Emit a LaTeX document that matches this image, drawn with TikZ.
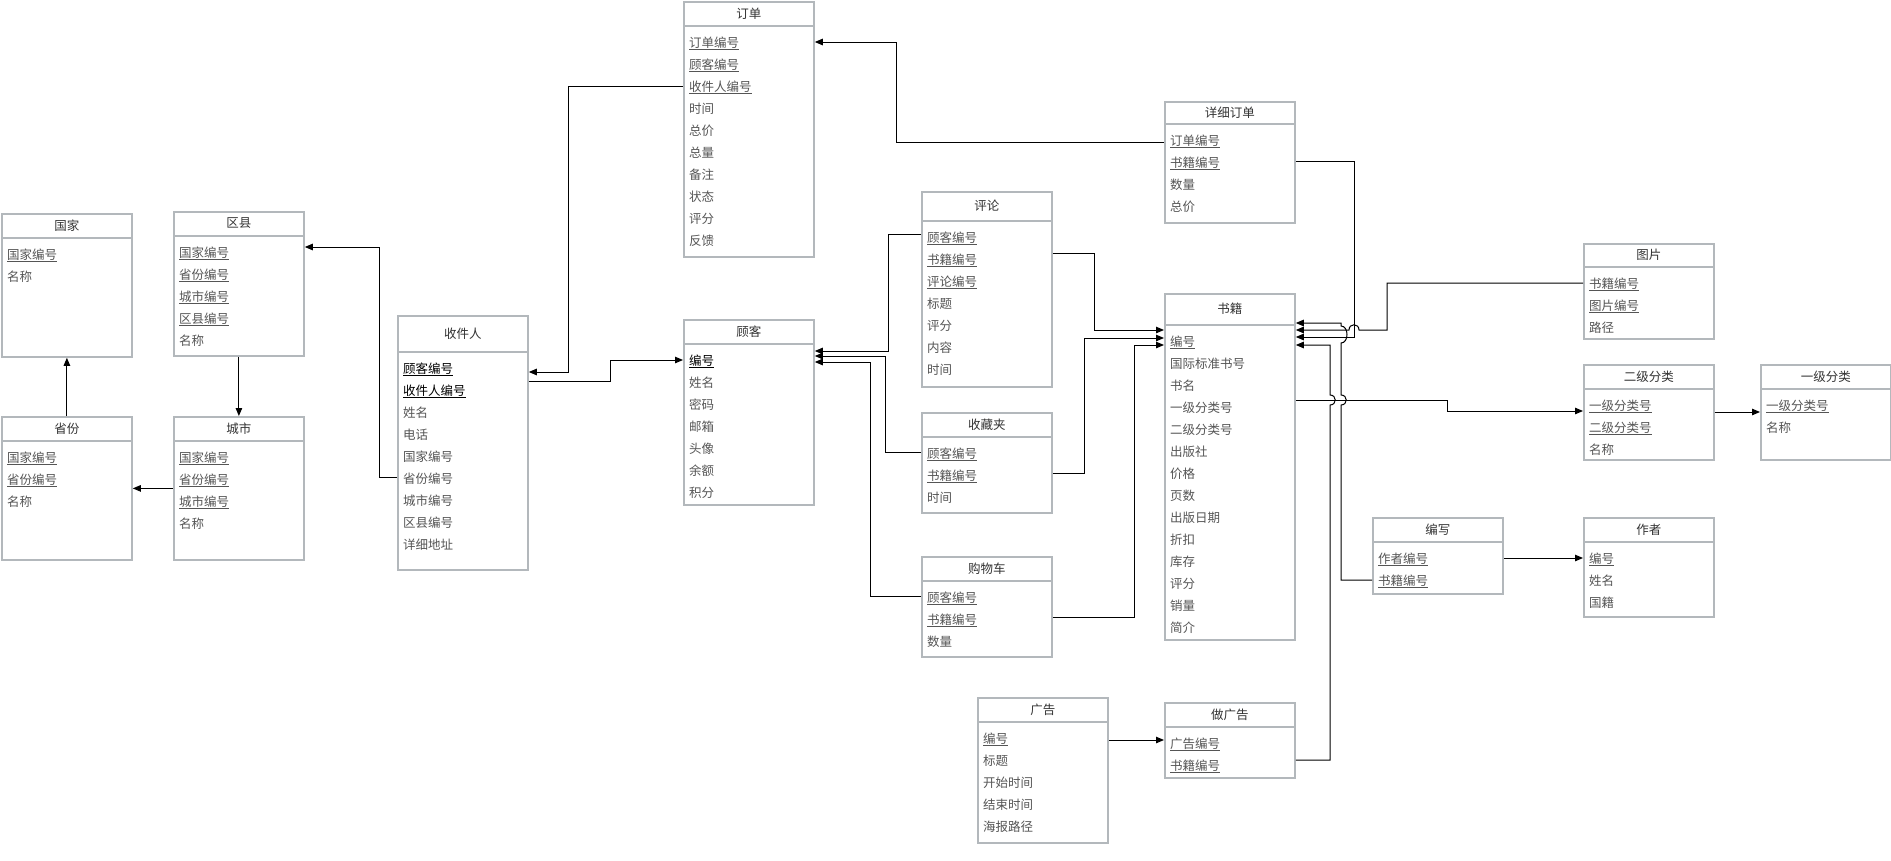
\documentclass[tikz,border=0pt]{standalone}
\usepackage{fontspec}
\setmainfont{Noto Sans CJK SC}
\usetikzlibrary{arrows.meta}
\definecolor{bordc}{HTML}{B3B8BC}
\definecolor{attrc}{HTML}{555555}
\definecolor{titlec}{HTML}{333333}
\newcommand\ku[1]{\underline{#1}}
\newcommand\kb[1]{\textcolor{black}{\underline{#1}}}
\tikzset{
 ebox/.style={draw=bordc, line width=1.8pt, minimum width=130pt, inner sep=0pt, fill=white},
 hline/.style={draw=bordc, line width=1.8pt},
 etitle/.style={text=titlec, font=\fontsize{12.5}{15}\selectfont, inner sep=0pt},
 attr/.style={text=attrc, font=\fontsize{12.5}{15}\selectfont, inner sep=0pt, anchor=west, text height=10pt, text depth=3pt},
 conn/.style={draw=black, line width=1pt, -{Triangle[length=8pt,width=6.5pt]}},
}
\newcommand\erbox[7]{%
 \node[ebox, minimum height=#5pt, anchor=north west] (#1) at (#2,#3) {};
 \draw[hline] ([yshift=-#4pt]#1.north west) -- ([yshift=-#4pt]#1.north east);
 \node[etitle] (#1-t) at ([yshift={-#4pt/2}]#1.north) {#6};
 \foreach \rowtxt [count=\ri] in {#7} {
   \node[attr] (#1-\ri) at ([xshift=6pt, yshift={-(#4+17.5+22*(\ri-1))*1pt}]#1.north west) {\rowtxt};
 }
}
\begin{document}
\begin{tikzpicture}[x=1pt,y=-1pt]
\fill[white] (0,0) rectangle (1891,860);
\useasboundingbox (0,0) rectangle (1891,860);

\erbox{nation}{1}{213}{25}{143}{国家}{\ku{国家编号},名称}
\erbox{dist}{173}{211}{25}{144}{区县}{\ku{国家编号},\ku{省份编号},\ku{城市编号},\ku{区县编号},名称}
\erbox{prov}{1}{416}{25}{143}{省份}{\ku{国家编号},\ku{省份编号},名称}
\erbox{city}{173}{416}{25}{143}{城市}{\ku{国家编号},\ku{省份编号},\ku{城市编号},名称}
\erbox{recv}{397}{315}{37}{254}{收件人}{\kb{顾客编号},\kb{收件人编号},姓名,电话,国家编号,省份编号,城市编号,区县编号,详细地址}
\erbox{order}{683}{1}{25}{255}{订单}{\ku{订单编号},\ku{顾客编号},\ku{收件人编号},时间,总价,总量,备注,状态,评分,反馈}
\erbox{cust}{683}{319}{25}{185}{顾客}{\kb{编号},姓名,密码,邮箱,头像,余额,积分}
\erbox{review}{921}{191}{30}{195}{评论}{\ku{顾客编号},\ku{书籍编号},\ku{评论编号},标题,评分,内容,时间}
\erbox{fav}{921}{412}{25}{100}{收藏夹}{\ku{顾客编号},\ku{书籍编号},时间}
\erbox{cart}{921}{556}{25}{100}{购物车}{\ku{顾客编号},\ku{书籍编号},数量}
\erbox{detail}{1164}{101}{23}{121}{详细订单}{\ku{订单编号},\ku{书籍编号},数量,总价}
\erbox{book}{1164}{293}{32}{346}{书籍}{\ku{编号},国际标准书号,书名,一级分类号,二级分类号,出版社,价格,页数,出版日期,折扣,库存,评分,销量,简介}
\erbox{pic}{1583}{243}{24}{95}{图片}{\ku{书籍编号},\ku{图片编号},路径}
\erbox{cat2}{1583}{364}{25}{95}{二级分类}{\ku{一级分类号},\ku{二级分类号},名称}
\erbox{cat1}{1760}{364}{25}{95}{一级分类}{\ku{一级分类号},名称}
\erbox{write}{1372}{517}{25}{76}{编写}{\ku{作者编号},\ku{书籍编号}}
\erbox{author}{1583}{517}{25}{99}{作者}{\ku{编号},姓名,国籍}
\erbox{ad}{977}{697}{25}{145}{广告}{\ku{编号},标题,开始时间,结束时间,海报路径}
\erbox{adbook}{1164}{702}{25}{75}{做广告}{\ku{广告编号},\ku{书籍编号}}

\draw[conn] (order.west |- 0,86) -- (568,86) -- (568,372) -- (recv.east |- 0,372);
\draw[conn] (recv.east |- 0,381) -- (610,381) -- (610,360) -- (cust.west |- 0,360);
\draw[conn] (recv.west |- 0,477) -- (379,477) -- (379,247) -- (dist.east |- 0,247);
\draw[conn] (city.west) -- (prov.east);
\draw[conn] (prov.north) -- (nation.south);
\draw[conn] (dist.south) -- (city.north);
\draw[conn] (review.west |- 0,234) -- (888,234) -- (888,351) -- (cust.east |- 0,351);
\draw[conn] (fav.west |- 0,452) -- (885,452) -- (885,356) -- (cust.east |- 0,356);
\draw[conn] (cart.west |- 0,596) -- (870,596) -- (870,362) -- (cust.east |- 0,362);
\draw[conn] (review.east |- 0,253) -- (1094,253) -- (1094,330) -- (book.west |- 0,330);
\draw[conn] (fav.east |- 0,473) -- (1084,473) -- (1084,338) -- (book.west |- 0,338);
\draw[conn] (cart.east |- 0,617) -- (1134,617) -- (1134,345) -- (book.west |- 0,345);
\draw[conn] (detail.west |- 0,142) -- (896,142) -- (896,42) -- (order.east |- 0,42);
\draw[conn] (detail.east |- 0,161) -- (1354,161) -- (1354,337) -- (book.east |- 0,337);
\draw[conn] (pic.west |- 0,283) -- (1387,283) -- (1387,330) -- (1359,330) .. controls (1359,323) and (1349,323) .. (1349,330) -- (book.east |- 0,330);
\draw[conn] (write.west |- 0,580) -- (1341,580) -- (1341,405) .. controls (1348,405) and (1348,395) .. (1341,395) -- (1341,343) .. controls (1349,343) and (1349,326) .. (1341,326) -- (1341,323) -- (book.east |- 0,323);
\draw[conn] (adbook.east |- 0,760) -- (1330,760) -- (1330,405) .. controls (1337,405) and (1337,395) .. (1330,395) -- (1330,345) -- (book.east |- 0,345);
\draw[conn] (book.east |- 0,400) -- (1447,400) -- (1447,411) -- (cat2.west |- 0,411);
\draw[conn] (cat2.east |- 0,412) -- (cat1.west |- 0,412);
\draw[conn] (write.east |- 0,558) -- (author.west |- 0,558);
\draw[conn] (ad.east |- 0,740) -- (adbook.west |- 0,740);
\end{tikzpicture}
\end{document}
